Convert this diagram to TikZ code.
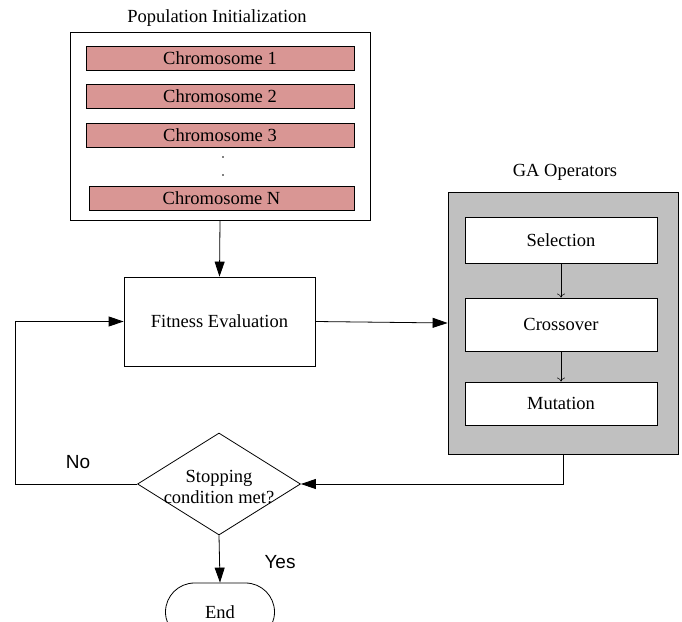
\documentclass[tikz,border=0pt]{standalone}
\usepackage{fontspec}
\setmainfont{Liberation Serif}
\newfontfamily\arialfont{Liberation Sans}
\usetikzlibrary{shapes.geometric,arrows.meta}
\definecolor{chromfill}{RGB}{217,150,148}
\definecolor{gafill}{RGB}{192,192,192}
\begin{document}
\begin{tikzpicture}[x=1pt,y=-1pt,
  txt/.style={font=\fontsize{18.5}{21}\selectfont, inner sep=0pt, align=center},
  box/.style={txt, draw, line width=0.8pt, fill=white},
  chrom/.style={box, fill=chromfill, minimum height=24pt},
  opbox/.style={box, minimum width=192pt},
  dotmark/.style={circle, fill=black, inner sep=0pt, minimum size=1.8pt},
  lbl/.style={font=\arialfont\fontsize{19}{21}\selectfont, inner sep=0pt},
  arr/.style={line width=0.8pt, -{Triangle[length=15pt,width=10pt]}},
  smallarr/.style={line width=0.5pt, -{To[length=4pt,width=8pt]}}
]
\useasboundingbox (0,0) rectangle (682,621);
\clip (0,0) rectangle (682,621);

% Population initialization
\node[txt] (poptitle) at (217,18) {Population Initialization};
\node[box, minimum width=300pt, minimum height=188pt] (pop) at (220,126) {};
\node[chrom, minimum width=268pt] (c1) at (220,58) {Chromosome 1};
\node[chrom, minimum width=268pt] (c2) at (220,96) {Chromosome 2};
\node[chrom, minimum width=268pt] (c3) at (220,135) {Chromosome 3};
\node[dotmark] (d1) at (223,157) {};
\node[dotmark] (d2) at (223,175) {};
\node[chrom, minimum width=265pt] (cn) at (221.5,198.5) {Chromosome N};

% Fitness evaluation
\node[box, minimum width=191pt, minimum height=89pt] (fit) at (219.5,321.5) {Fitness Evaluation};

% GA operators
\node[txt] (gatitle) at (565,172) {GA Operators};
\node[box, fill=gafill, minimum width=230pt, minimum height=262pt] (ga) at (563,323) {};
\node[opbox, minimum height=46pt] (sel) at (561,240) {Selection};
\node[opbox, minimum height=53pt] (cross) at (561,324.5) {Crossover};
\node[opbox, minimum height=43pt] (mut) at (561,403.5) {Mutation};

% Decision
\node[draw, line width=0.8pt, diamond, minimum width=163pt, minimum height=102pt, inner sep=0pt] (stop) at (219,484) {};
\node[txt] (stoptext) at (219,487) {Stopping\\condition met?};

% End
\node[box, rounded corners=29pt, minimum width=109pt, minimum height=58pt] (end) at (220,612) {End};

% Connectors
\draw[arr] (pop.south) -- (fit.north);
\draw[arr] (fit.east) -- (ga.west);
\draw[smallarr] (sel.south) -- (cross.north);
\draw[smallarr] (cross.south) -- (mut.north);
\draw[arr] (ga.south) |- (stop.east);
\coordinate (loopx) at (15,0);
\draw[arr] (stop.west) -- (stop.west -| loopx) |- (fit.west);
\draw[arr] (stop.south) -- (end.north);

% Labels
\node[lbl] (no) at (78,462) {No};
\node[lbl] (yes) at (280,562) {Yes};
\end{tikzpicture}
\end{document}
